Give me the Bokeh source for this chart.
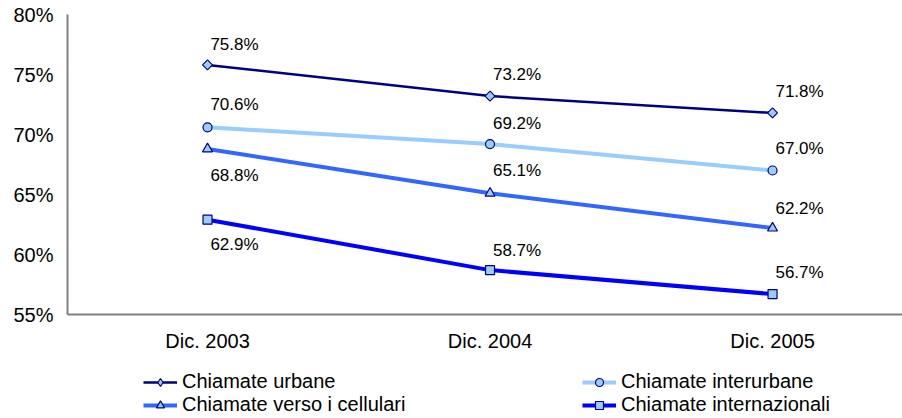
import math
from bokeh.plotting import figure
from bokeh.models import Legend, LegendItem, FixedTicker, Range1d, ColumnDataSource
from bokeh.layouts import column
from bokeh.core.properties import value
from bokeh.embed import file_html
from bokeh.resources import INLINE

periods = ["Dic. 2003", "Dic. 2004", "Dic. 2005"]
series_names = ["Chiamate urbane", "Chiamate interurbane",
                "Chiamate verso i cellulari", "Chiamate internazionali"]
urbane = [75.8, 73.2, 71.8]
interurbane = [70.6, 69.2, 67.0]
cellulari = [68.8, 65.1, 62.2]
internazionali = [62.9, 58.7, 56.7]
y_ticks = [55, 60, 65, 70, 75, 80]

FONT = "Liberation Sans"
xs = list(range(len(periods)))

p = figure(width=902, height=360, output_backend="svg", toolbar_location=None,
           x_range=Range1d(-0.4956, 2.46), y_range=Range1d(55, 80),
           min_border_left=67, min_border_right=0, min_border_top=14,
           min_border_bottom=46)
p.outline_line_color = None
p.xgrid.visible = False
p.ygrid.visible = False
p.background_fill_color = "white"
p.border_fill_color = "white"

for ax in (p.xaxis[0], p.yaxis[0]):
    ax.axis_line_color = "#808080"
    ax.axis_line_width = 2
    ax.major_tick_line_color = None
    ax.minor_tick_line_color = None
    ax.major_tick_out = 0
    ax.major_tick_in = 0
    ax.minor_tick_out = 0
    ax.minor_tick_in = 0
    ax.major_label_text_font = FONT
    ax.major_label_text_font_size = "20px"
    ax.major_label_text_color = "black"

p.xaxis.ticker = FixedTicker(ticks=xs)
p.xaxis.major_label_overrides = {i: s for i, s in enumerate(periods)}
p.xaxis.major_label_standoff = 15
p.yaxis.ticker = FixedTicker(ticks=y_ticks)
p.yaxis.major_label_overrides = {t: f"{t}%" for t in y_ticks}
p.yaxis.major_label_standoff = 14

styles = [
    # color, width, marker, size, angle, legend marker, label dy
    ("#000080", 2.5, "square", 7, math.pi / 4, "diamond", [20, 22, 21]),
    ("#99CCFF", 4, "circle", 9, 0, "circle", [23, 21, 22]),
    ("#3366FF", 4, "triangle", 10, 0, "triangle", [-27, 23, 20]),
    ("#0000FF", 4, "square", 9, 0, "square", [-25, 20, 22]),
]
data = [urbane, interurbane, cellulari, internazionali]

# legend strip figure
p2 = figure(width=902, height=58, output_backend="svg", toolbar_location=None,
            x_range=Range1d(0, 1), y_range=Range1d(0, 1),
            min_border_left=0, min_border_right=0, min_border_top=0,
            min_border_bottom=0)
p2.axis.visible = False
p2.grid.visible = False
p2.outline_line_color = None
p2.border_fill_color = "white"

items = []
for name, vals, (col, lw, mk, sz, ang, lmk, dys) in zip(series_names, data, styles):
    src = ColumnDataSource(dict(x=xs, y=vals,
                                lab=[f"{v:.1f}%" for v in vals],
                                dy=[-d for d in dys]))
    p.line("x", "y", source=src, line_color=col, line_width=lw)
    p.scatter("x", "y", source=src, marker=mk, size=sz, angle=ang,
              fill_color="#99CCFF", line_color="#000080", line_width=1.2)
    p.text("x", "y", text="lab", source=src, x_offset=27, y_offset="dy",
           text_align="center", text_baseline="middle",
           text_font=value(FONT), text_font_size="17px", text_color="black")
    # legend glyph proxies (outside visible range)
    l1 = p2.line([10, 11], [10, 11], line_color=col, line_width=lw)
    l2 = p2.scatter([10], [10], marker=lmk, size=sz,
                    fill_color="#99CCFF", line_color="#000080", line_width=1.2)
    items.append(LegendItem(label=name, renderers=[l1, l2]))

def make_legend(its, x, y):
    return Legend(items=its, location=(x, y), orientation="vertical",
                  glyph_width=34, glyph_height=20, label_standoff=5,
                  spacing=0, padding=0, margin=0,
                  label_text_font=FONT, label_text_font_size="20px",
                  label_text_color="black",
                  border_line_color=None, background_fill_alpha=0)

p2.add_layout(make_legend([items[0], items[2]], 76, 2))
p2.add_layout(make_legend([items[1], items[3]], 515, 2))

layout = column(p, p2, spacing=0)
open("out.html", "w").write(file_html(layout, INLINE))
